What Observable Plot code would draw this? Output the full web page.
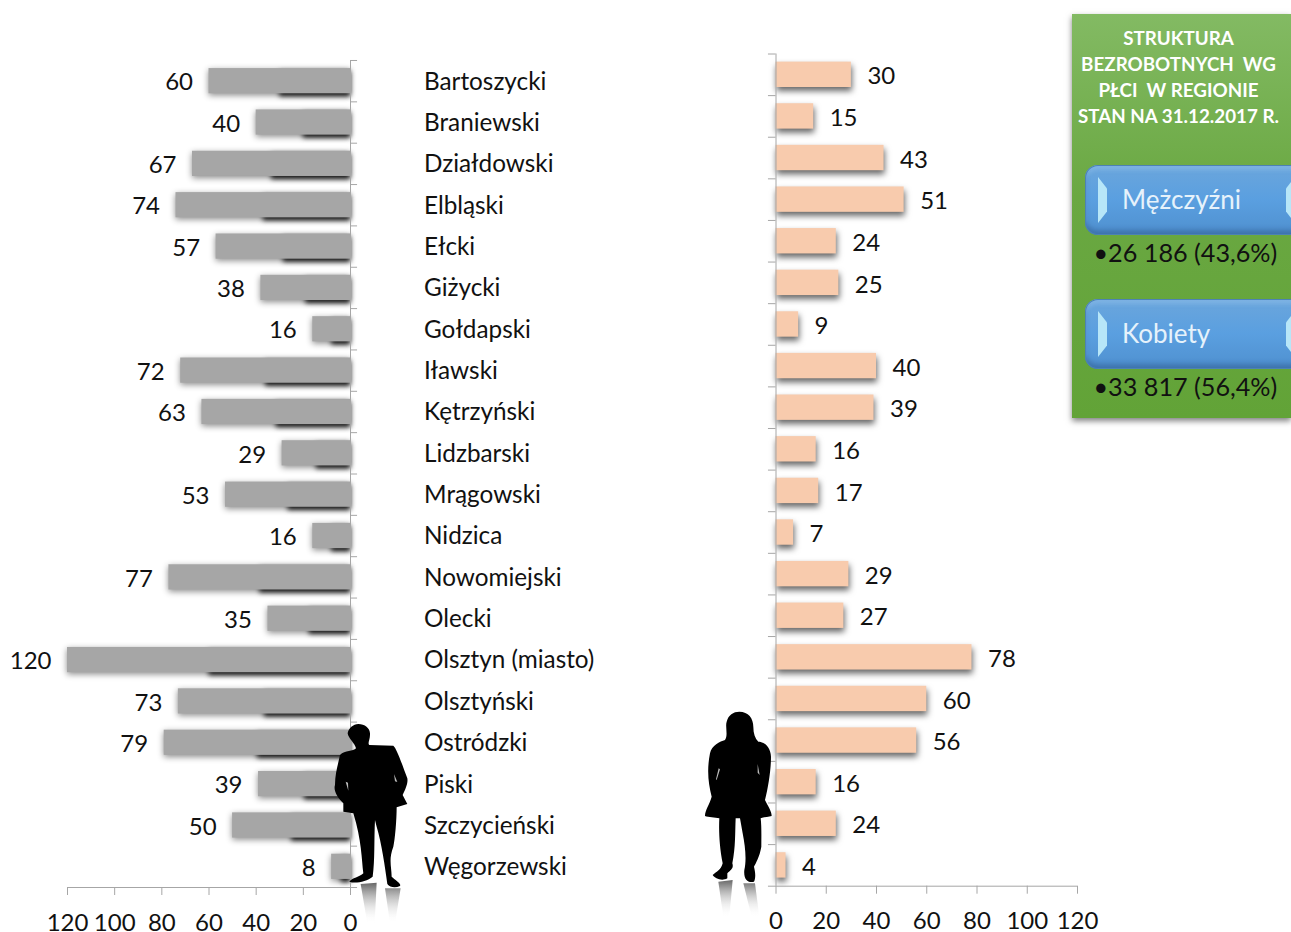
<!DOCTYPE html>
<html lang="pl">
<head>
<meta charset="utf-8">
<script src="https://cdn.jsdelivr.net/npm/d3@7"></script>
<script src="https://cdn.jsdelivr.net/npm/@observablehq/plot@0.6"></script>
<style>
html,body{margin:0;padding:0;background:#fff;overflow:hidden;}
#stage{position:relative;width:1291px;height:932px;overflow:hidden;font-family:Lato,sans-serif;}
#chartL,#chartR{position:absolute;top:0;}
#chartL{left:0;} #chartR{left:700px;}
#chartL svg,#chartR svg{display:block;max-width:none;}
#people{position:absolute;left:0;top:0;pointer-events:none;}
#panel{position:absolute;left:1072px;top:14px;width:219px;height:404px;
 background:linear-gradient(180deg,#83ba63 0%,#6aa842 45%,#62a337 100%);
 box-shadow:0 3px 6px rgba(0,0,0,.5);}
#panel .title{position:absolute;left:0;width:213px;text-align:center;color:#fff;font-weight:700;font-size:18.8px;line-height:26px;top:11px;white-space:pre;}
.btn{position:absolute;left:13px;width:230px;height:70px;border-radius:13px;
 background:linear-gradient(180deg,#6ba6dc 0%,#5a9fe0 50%,#4f90cf 100%);
 box-shadow:inset 0 0 0 1px #4c82b4,inset 0 -5px 5px rgba(40,80,130,.45),inset 0 5px 4px rgba(170,210,245,.3);}
.btn span{position:absolute;left:37px;top:18px;color:#e6f2fb;font-size:26px;}
.btn i{position:absolute;left:13px;top:12px;width:9px;height:46px;background:#b7e6f8;clip-path:polygon(0 0,100% 25%,100% 75%,0 100%);}
.btn b{position:absolute;left:201px;top:12px;width:9px;height:46px;background:#b7e6f8;clip-path:polygon(0 25%,100% 0,100% 100%,0 75%);}
.val{position:absolute;left:21.5px;font-size:25.2px;color:#111;white-space:pre;}
</style>
</head>
<body>
<div id="stage">
 <div id="chartL"></div>
 <div id="chartR"></div>
 <svg id="people" width="1291" height="932" viewBox="0 0 1291 932">
  <defs>
   <linearGradient id="refl" x1="0" y1="0" x2="0" y2="1">
    <stop offset="0" stop-color="#666"/><stop offset="1" stop-color="#fff" stop-opacity="0"/>
   </linearGradient>
   <filter id="soft"><feGaussianBlur stdDeviation="1.5"/></filter>
  </defs>
  <g transform="translate(280,700) scale(.3333)">
   <path filter="url(#soft)" fill="url(#refl)" d="M242,552 L290,548 L284,670 L262,670 Z M315,565 L362,565 L345,670 L330,670 Z"/>
   <path fill="#000" d="M235,72 C255,72 272,85 270,105 C270,120 262,130 268,135 L340,137 C350,145 365,190 382,235 C385,250 375,270 368,285 L382,312 L350,322 C350,360 345,420 340,440 C325,480 335,500 335,530 C345,540 365,550 360,558 C345,565 330,562 322,552 C315,500 305,430 290,380 L285,360 C282,420 285,480 278,530 C260,545 225,552 208,545 C215,535 240,530 250,520 C245,480 245,420 220,340 L190,335 L190,310 C170,290 160,270 165,255 C165,220 175,190 180,165 C195,150 220,155 228,145 C225,130 205,115 203,100 C205,85 220,72 235,72 Z"/>
   <path fill="#bbb" d="M197,245 L204,248 L205,272 Z M342,222 L352,246 L345,244 Z"/>
  </g>
  <g transform="translate(690,700) scale(.3333)">
   <path filter="url(#soft)" fill="url(#refl)" d="M85,545 L128,540 L118,650 L100,650 Z M160,550 L195,550 L208,650 L185,650 Z"/>
   <path fill="#000" d="M148,35 C175,35 190,55 190,80 C190,100 195,115 205,125 C225,125 242,145 243,170 C243,210 235,260 225,300 C235,320 245,335 245,348 C235,352 220,350 212,355 C215,380 214,410 214,440 C209,470 197,490 192,500 C197,520 197,535 192,545 C175,550 160,540 163,510 C170,480 166,440 158,400 L150,355 L137,355 C135,400 137,440 127,490 C132,505 122,510 112,520 L112,535 C95,545 75,535 68,525 C80,515 93,510 98,490 C88,440 86,390 88,355 C75,352 55,352 45,348 C45,330 58,315 65,290 C55,250 50,210 60,160 C65,135 90,125 105,120 C115,105 105,80 110,65 C115,45 130,35 148,35 Z"/>
   <path fill="#bbb" d="M86,205 L90,208 L80,240 L78,238 Z M203,192 L209,225 L203,218 Z"/>
  </g>
 </svg>
 <div id="panel">
  <div class="title">STRUKTURA
BEZROBOTNYCH  WG
PŁCI  W REGIONIE
STAN NA 31.12.2017 R.</div>
  <div class="btn" style="top:151px"><i></i><b></b><span id="menName"></span></div>
  <div class="val" style="top:223px" id="menVal"></div>
  <div class="btn" style="top:285px"><i></i><b></b><span id="womenName"></span></div>
  <div class="val" style="top:357px" id="womenVal"></div>
 </div>
</div>
<script>
const counties = ["Bartoszycki","Braniewski","Działdowski","Elbląski","Ełcki","Giżycki","Gołdapski","Iławski","Kętrzyński","Lidzbarski","Mrągowski","Nidzica","Nowomiejski","Olecki","Olsztyn (miasto)","Olsztyński","Ostródzki","Piski","Szczycieński","Węgorzewski"];
const women = [60,40,67,74,57,38,16,72,63,29,53,16,77,35,120,73,79,39,50,8];
const men = [30,15,43,51,24,25,9,40,39,16,17,7,29,27,78,60,56,16,24,4];
const xTicks = [0,20,40,60,80,100,120];
const legendNames = ["Mężczyźni","Kobiety"];
const legendValues = ["•26 186 (43,6%)","•33 817 (56,4%)"];

document.getElementById("menName").textContent = legendNames[0];
document.getElementById("womenName").textContent = legendNames[1];
document.getElementById("menVal").textContent = legendValues[0];
document.getElementById("womenVal").textContent = legendValues[1];

const axisGray = "#a6a6a6";
const font = {fontFamily:"Lato, sans-serif", fontSize:"24px", background:"transparent", overflow:"visible"};
const rowsL = counties.map((c,i)=>({c, v:women[i]}));
const rowsR = counties.map((c,i)=>({c, v:men[i]}));

const yOpts = {domain:counties, paddingInner:0.39, paddingOuter:0.195, round:false, label:null};

const left = Plot.plot({
  width:700, height:932, marginTop:60, marginBottom:45, marginLeft:67, marginRight:350,
  style:font,
  x:{domain:[120,0], label:null}, y:yOpts,
  marks:[
    Plot.barX(rowsL,{y:"c", x1:0, x2:d=>d.v*0.5, fill:"#222", dy:3}),
    Plot.barX(rowsL,{y:"c", x:"v", fill:"#a6a6a6"}),
    Plot.ruleX([0],{stroke:axisGray}),
    Plot.ruleY(counties,{y:d=>d, x1:0, x2:-3, stroke:axisGray, dy:-20.675}),
    Plot.ruleY(counties.slice(-1),{y:d=>d, x1:-3, x2:120, stroke:axisGray, dy:20.675}),
    Plot.axisX({ticks:xTicks, tickSize:8, tickPadding:18, stroke:axisGray, fill:"#111"}),
    Plot.axisY({anchor:"right", tickSize:0, tickPadding:73.5, fill:"#111", fontSize:24.3, dy:0.6}),
    Plot.text(rowsL,{y:"c", x:"v", text:d=>String(d.v), dx:-16, dy:1.5, textAnchor:"end", fill:"#111"})
  ]
});
const right = Plot.plot({
  width:591, height:932, marginTop:53.5, marginBottom:46.3, marginLeft:75.5, marginRight:214,
  style:font,
  x:{domain:[0,120], label:null}, y:yOpts,
  marks:[
    Plot.barX(rowsR,{y:"c", x:"v", fill:"#f8cbad"}),
    Plot.ruleX([0],{stroke:axisGray}),
    Plot.ruleY(counties,{y:d=>d, x1:0, x2:-3, stroke:axisGray, dy:-20.8}),
    Plot.ruleY(counties.slice(-1),{y:d=>d, x1:-3, x2:120, stroke:axisGray, dy:20.8}),
    Plot.axisX({ticks:xTicks, tickSize:8, tickPadding:18, stroke:axisGray, fill:"#111"}),
    Plot.axisY({anchor:"left", tickSize:0, tickFormat:()=>"" }),
    Plot.text(rowsR,{y:"c", x:"v", text:d=>String(d.v), dx:16, dy:2, textAnchor:"start", fill:"#111"})
  ]
});
document.getElementById("chartL").appendChild(left);
document.getElementById("chartR").appendChild(right);

const bl = left.querySelectorAll('g[aria-label="bar"]');
bl[0].style.filter = "blur(2.5px)";
bl[1].style.filter = "drop-shadow(0 2px 3px rgba(0,0,0,.45))";
right.querySelector('g[aria-label="bar"]').style.filter = "drop-shadow(1px 4px 3px rgba(0,0,0,.6))";
</script>
</body>
</html>
